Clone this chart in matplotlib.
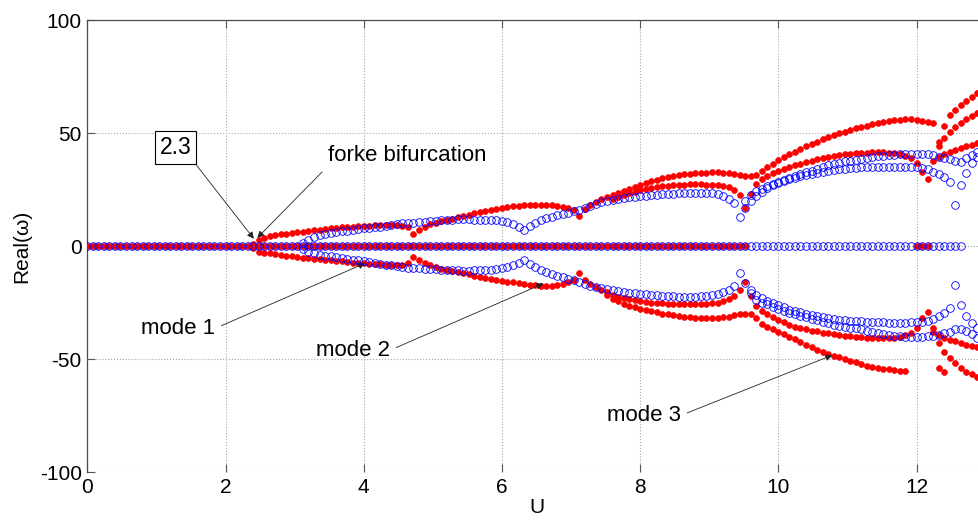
import numpy as np
import matplotlib.pyplot as plt

plt.rcParams['font.family'] = ['Liberation Sans', 'DejaVu Sans']
plt.rcParams['axes.unicode_minus'] = False

# sweep step of the flow speed U
du = 0.08

# ranges of U where the eigenvalue stays at zero
red_zero_ranges = [(0.0, 9.52), (12.00, 12.16)]
blue_zero_ranges = [(0.0, 12.64)]

# red (filled) branches: first U and Real(omega) at every step
red_top_u0 = 2.40
red_top = [
    1.0, 2.5, 3.5, 4.3, 4.8, 5.2, 5.5, 5.8, 6.0, 6.3,
    6.6, 6.9, 7.2, 7.5, 7.8, 8.0, 8.2, 8.4, 8.6, 8.7,
    8.8, 9.0, 9.1, 9.2, 9.3, 9.4, 9.5, 9.0, 8.3, 5.3,
    7.1, 8.6, 9.6, 10.3, 11.0, 11.6, 12.1, 12.7, 13.3, 13.8,
    14.4, 14.9, 15.4, 15.9, 16.4, 16.8, 17.2, 17.5, 17.8, 18.0,
    18.1, 18.2, 18.2, 18.2, 18.0, 17.7, 17.3, 16.7, 15.8, 13.3,
    16.2, 18.2, 19.6, 20.6, 21.5, 22.5, 23.4, 24.4, 25.4, 26.3,
    27.1, 27.9, 28.6, 29.3, 29.9, 30.4, 30.9, 31.3, 31.7, 32.0,
    32.2, 32.4, 32.5, 32.6, 32.6, 32.5, 32.3, 32.0, 31.6, 31.0,
    30.8, 31.6, 33.4, 35.0, 36.5, 37.9, 39.2, 40.6, 41.8, 43.0,
    44.1, 45.2, 46.2, 47.2, 48.1, 49.0, 49.8, 50.6, 51.3, 52.0,
    52.7, 53.3, 53.9, 54.4, 54.9, 55.3, 55.6, 55.9, 56.0, 56.0,
    55.8, 55.4, 55.0, 54.6,
]

red_up2_u0 = 7.60
red_up2 = [
    20.8, 21.8, 22.6, 23.3, 24.0, 24.6, 25.1, 25.6, 26.0, 26.4,
    26.7, 26.9, 27.0, 27.2, 27.3, 27.3, 27.3, 27.2, 27.0, 26.8,
    26.5, 26.0, 25.0, 22.5, 17.0, 23.0, 27.5, 29.5, 31.0, 32.4,
    33.3, 34.2, 35.0, 35.8, 36.5, 37.2, 37.8, 38.3, 38.8, 39.3,
    39.8, 40.2, 40.5, 40.8, 41.0, 41.2, 41.3, 41.4, 41.4, 41.4,
    41.3, 41.1, 40.8, 39.9, 38.8, 36.9, 32.8, 29.8,
]

red_up_r1_u0 = 12.32
red_up_r1 = [46.0, 53.0, 58.0, 60.2, 62.4, 64.3, 66.0, 67.6]
red_up_r2_u0 = 12.32
red_up_r2 = [44.2, 47.7, 50.6, 52.8, 54.6, 56.1, 57.5, 58.7]
red_up_r3_u0 = 12.24
red_up_r3 = [37.5, 39.5, 40.8, 41.8, 42.6, 43.4, 44.2, 44.9, 45.6]

red_low_out_u0 = 2.40
red_low_out = [
    -1.0, -2.5, -3.0, -3.3, -3.7, -4.0, -4.3, -4.6, -4.8, -5.1,
    -5.4, -5.7, -5.9, -6.1, -6.3, -6.5, -6.8, -7.0, -7.3, -7.5,
    -7.7, -7.9, -8.0, -8.1, -8.2, -8.3, -8.5, -8.4, -7.7, -4.7,
    -6.2, -7.4, -8.5, -9.3, -10.0, -10.6, -11.1, -11.6, -12.1, -12.6,
    -13.1, -13.6, -14.1, -14.6, -15.0, -15.4, -15.8, -16.1, -16.4, -16.8,
    -17.1, -17.4, -17.6, -17.7, -17.6, -17.3, -16.8, -16.0, -15.0, -12.1,
    -15.0, -16.6, -18.0, -19.5, -21.5, -23.5, -24.5, -25.5, -26.4, -27.1,
    -27.7, -28.3, -28.9, -29.4, -29.9, -30.3, -30.7, -31.0, -31.3, -31.5,
    -31.7, -31.8, -31.9, -32.0, -31.9, -31.6, -31.2, -30.7, -30.2, -30.0,
    -30.3, -32.0, -34.5, -35.8, -36.9, -38.0, -39.0, -40.1, -41.3, -42.5,
    -43.7, -44.8, -45.8, -46.7, -47.6, -48.5, -49.3, -50.0, -50.7, -51.5,
    -52.2, -52.9, -53.4, -53.8, -54.2, -54.5, -54.8, -55.1, -55.3,
]

red_low_in_u0 = 7.52
red_low_in = [
    -20.5, -21.6, -22.4, -23.0, -23.6, -24.0, -24.4, -24.7, -25.0, -25.2,
    -25.4, -25.6, -25.7, -25.8, -25.8, -25.8, -25.8, -25.7, -25.6, -25.4,
    -25.0, -24.4, -23.5, -22.0, -19.5, -15.8, -22.0, -26.5, -28.8, -30.3,
    -31.5, -32.6, -33.8, -35.0, -35.7, -36.3, -36.9, -37.4, -37.8, -38.3,
    -38.7, -39.0, -39.4, -39.6, -39.8, -40.1, -40.4, -40.6, -40.9, -40.9,
    -40.9, -40.9, -40.6, -40.1, -39.4, -38.3, -36.4, -32.0, -29.1,
]

red_low_r1_u0 = 12.24
red_low_r1 = [-36.4, -43.0, -46.8, -49.7, -51.9, -54.0, -55.6, -56.8, -57.8]
red_low_r2_u0 = 12.24
red_low_r2 = [-38.0, -39.5, -40.5, -41.5, -42.2, -43.0, -43.6, -44.2, -44.7]
red_low_r3_u0 = 12.32
red_low_r3 = [-54.0, -55.6]

# blue (open) branches
blue_up_u0 = 3.12
blue_up = [
    1.5, 2.7, 4.0, 4.8, 5.3, 5.7, 6.1, 6.5, 6.8, 7.2,
    7.5, 7.8, 8.1, 8.3, 8.6, 8.8, 9.2, 9.7, 10.0, 10.2,
    10.3, 10.5, 10.7, 11.0, 11.2, 11.4, 11.6, 11.7, 11.8, 11.8,
    11.8, 11.7, 11.6, 11.5, 11.4, 11.3, 11.0, 10.5, 9.8, 8.6,
    7.1, 9.0, 10.3, 11.3, 12.2, 13.0, 13.7, 14.2, 14.8, 15.4,
    16.0, 16.9, 17.7, 18.8, 19.4, 20.0, 20.4, 20.8, 21.2, 21.5,
    21.8, 22.0, 22.2, 22.4, 22.6, 22.8, 23.0, 23.1, 23.3, 23.4,
    23.5, 23.6, 23.6, 23.5, 23.3, 22.9, 22.3, 21.0, 18.9, 12.7,
    17.0, 20.0, 22.3, 24.0, 25.5, 27.0, 28.0, 28.9, 29.6, 30.2,
    30.8, 31.4, 31.9, 32.4, 32.9, 33.3, 33.6, 33.9, 34.2, 34.4,
    34.7, 34.9, 35.0, 35.1, 35.1, 35.1, 35.1, 35.1, 35.1, 35.1,
    35.0, 34.8, 34.3, 33.9, 32.9, 31.9, 30.5, 28.5,
]

blue_up2_u0 = 9.52
blue_up2 = [
    20.0, 22.5, 24.3, 25.4, 26.5, 27.6, 28.4, 29.3, 30.1, 31.0,
    31.8, 32.6, 33.4, 34.2, 35.0, 35.7, 36.3, 36.9, 37.4, 37.8,
    38.2, 38.6, 39.0, 39.4, 39.7, 40.0, 40.2, 40.4, 40.6, 40.7,
    40.7, 40.7, 40.7, 40.5, 40.1, 39.6, 38.9, 38.3, 37.6, 37.3,
    38.8, 40.3, 41.7,
]

blue_up_r_u0 = 12.56
blue_up_r = [18.1, 27.0, 32.2, 36.6, 39.5]

blue_low_u0 = 3.12
blue_low = [
    -1.5, -2.7, -3.3, -3.8, -4.2, -4.6, -5.0, -5.4, -5.7, -6.0,
    -6.3, -6.6, -7.0, -7.4, -7.8, -8.2, -8.6, -9.0, -9.4, -9.6,
    -9.8, -9.9, -10.0, -10.2, -10.3, -10.5, -10.6, -10.7, -10.8, -10.9,
    -10.9, -10.8, -10.7, -10.6, -10.4, -10.1, -9.8, -9.3, -8.6, -7.6,
    -6.2, -7.8, -9.3, -10.5, -11.5, -12.4, -13.1, -13.8, -14.5, -15.2,
    -15.8, -16.8, -17.5, -18.0, -18.6, -19.1, -19.5, -19.9, -20.3, -20.6,
    -20.9, -21.2, -21.4, -21.6, -21.8, -22.0, -22.2, -22.3, -22.4, -22.4,
    -22.4, -22.4, -22.3, -22.1, -21.7, -21.1, -20.3, -19.3, -17.8, -12.1,
    -16.5, -19.5, -21.6, -23.0, -24.2, -25.3, -26.2, -27.2, -28.2, -28.8,
    -29.4, -30.0, -30.6, -31.1, -31.6, -32.0, -32.4, -32.7, -32.9, -33.1,
    -33.2, -33.3, -33.4, -33.5, -33.7, -33.8, -33.9, -33.9, -33.9, -33.9,
    -33.8, -33.6, -33.4, -33.0, -32.4, -30.8, -29.5, -27.6,
]

blue_low2_u0 = 9.60
blue_low2 = [
    -21.0, -23.9, -25.0, -25.8, -26.8, -27.7, -28.6, -29.5, -30.2, -31.0,
    -31.6, -32.3, -32.9, -33.5, -34.2, -34.8, -35.4, -35.8, -36.1, -36.4,
    -36.9, -37.4, -37.9, -38.4, -38.9, -39.4, -39.7, -40.0, -40.1, -40.1,
    -40.1, -40.1, -40.0, -39.8, -39.4, -38.6, -37.9, -36.9, -36.9, -37.5,
    -38.9, -40.9,
]

blue_low_r_u0 = 12.56
blue_low_r = [-17.3, -26.1, -31.0, -33.9, -36.4]


def branch(u0, vals):
    u = u0 + du * np.arange(len(vals))
    return u, np.asarray(vals)


def zero_branch(u_start, u_end):
    n = int(round((u_end - u_start) / du)) + 1
    u = u_start + du * np.arange(n)
    return u, np.zeros(n)


red_sets = [zero_branch(a, b) for a, b in red_zero_ranges] + [
    branch(red_top_u0, red_top),
    branch(red_up2_u0, red_up2),
    branch(red_up_r1_u0, red_up_r1),
    branch(red_up_r2_u0, red_up_r2),
    branch(red_up_r3_u0, red_up_r3),
    branch(red_low_out_u0, red_low_out),
    branch(red_low_in_u0, red_low_in),
    branch(red_low_r1_u0, red_low_r1),
    branch(red_low_r2_u0, red_low_r2),
    branch(red_low_r3_u0, red_low_r3),
]
blue_sets = [zero_branch(a, b) for a, b in blue_zero_ranges] + [
    branch(blue_up_u0, blue_up),
    branch(blue_up2_u0, blue_up2),
    branch(blue_up_r_u0, blue_up_r),
    branch(blue_low_u0, blue_low),
    branch(blue_low2_u0, blue_low2),
    branch(blue_low_r_u0, blue_low_r),
]

fig = plt.figure(figsize=(9.79, 5.21), dpi=100)
ax = fig.add_axes([0.0892, 0.094, 0.9176, 0.8676])

for u, w in red_sets:
    ax.plot(u, w, 'o', color='red', markersize=4.2, markeredgewidth=0.5,
            linestyle='none', zorder=3)
for u, w in blue_sets:
    ax.plot(u, w, 'o', markerfacecolor='none', markeredgecolor='blue',
            markersize=5.5, markeredgewidth=0.6, linestyle='none', zorder=4)

ax.set_xlim(0, 13)
ax.set_ylim(-100, 100)
ax.set_xticks([0, 2, 4, 6, 8, 10, 12])
ax.set_yticks([-100, -50, 0, 50, 100])
ax.grid(True, linestyle=':', color='#a6a6a6', linewidth=0.8)
ax.tick_params(direction='in', length=6, width=0.8, labelsize=15,
               top=True, right=True, pad=4, colors='#555555', labelcolor='black')
for sp in ax.spines.values():
    sp.set_color('#4d4d4d')
    sp.set_linewidth(0.9)
ax.spines['bottom'].set_visible(False)

ax.set_xlabel('U', fontsize=15, labelpad=1)
ax.set_ylabel('Real(ω)', fontsize=15, labelpad=6)

arrow = dict(arrowstyle='-|>', color='#222222', lw=0.6, mutation_scale=10,
             shrinkA=0, shrinkB=0)

ax.annotate('2.3', xy=(2.41, 3.2), xytext=(1.28, 43.6), fontsize=16.5,
            ha='center', va='center',
            bbox=dict(boxstyle='square,pad=0.2', fc='white', ec='black', lw=0.8),
            arrowprops=dict(arrow, relpos=(1, 0)))
ax.annotate('forke bifurcation', xy=(2.46, 3.6), xytext=(3.48, 40.0),
            fontsize=16, ha='left', va='center',
            arrowprops=dict(arrow, relpos=(0, 0), shrinkA=3))
ax.annotate('mode 1', xy=(4.02, -7.6), xytext=(1.31, -36.5), fontsize=16,
            ha='center', va='center',
            arrowprops=dict(arrow, relpos=(1, 0.5), shrinkA=3))
ax.annotate('mode 2', xy=(6.6, -16.6), xytext=(3.84, -46.2), fontsize=16,
            ha='center', va='center',
            arrowprops=dict(arrow, relpos=(1, 0.5), shrinkA=3))
ax.annotate('mode 3', xy=(10.78, -48.3), xytext=(8.05, -75.0), fontsize=16,
            ha='center', va='center',
            arrowprops=dict(arrow, relpos=(1, 0.5), shrinkA=3))

fig.savefig('out.png', dpi=100)
